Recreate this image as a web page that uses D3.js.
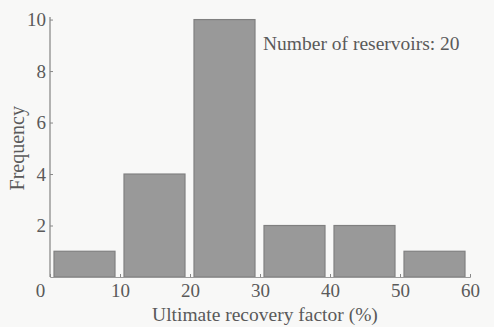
<!DOCTYPE html>
<html>
<head>
<meta charset="utf-8">
<script src="https://cdn.jsdelivr.net/npm/d3@7"></script>
<style>
  html, body { margin: 0; padding: 0; background: #f8f8f7; }
  svg { display: block; }
  text { font-family: "Liberation Serif", "DejaVu Serif", serif; fill: #5a5a5a; }
</style>
</head>
<body>
<svg id="chart" width="494" height="327"></svg>
<script>
// Histogram of ultimate recovery factor, 10% bins
const binStarts = [0, 10, 20, 30, 40, 50];
const binWidth = 10;
const frequencies = [1, 4, 10, 2, 2, 1];
const xTicks = [0, 10, 20, 30, 40, 50, 60];
const yTicks = [2, 4, 6, 8, 10];
const annotation = "Number of reservoirs: 20";

const svg = d3.select("#chart");
const margin = { left: 50, right: 24, top: 17, bottom: 50 };
const W = 494, H = 327;

const x = d3.scaleLinear().domain([0, 60]).range([margin.left, W - margin.right]);
const y = d3.scaleLinear().domain([0, 10.1]).range([H - margin.bottom, margin.top]);

// bars
svg.append("g").selectAll("rect")
  .data(binStarts.map((s, i) => ({ s, f: frequencies[i] })))
  .join("rect")
  .attr("x", d => x(d.s) + 4)
  .attr("width", d => x(d.s + binWidth) - x(d.s) - 9)
  .attr("y", d => y(d.f))
  .attr("height", d => y(0) - y(d.f))
  .attr("fill", "#999999")
  .attr("stroke", "#808080")
  .attr("stroke-width", 1.2);

// y axis
const yAxis = svg.append("g")
  .attr("transform", `translate(${margin.left},0)`)
  .call(d3.axisLeft(y).tickValues(yTicks).tickSize(-3).tickPadding(4).tickFormat(d3.format("d")));
yAxis.select(".domain").attr("d", `M0,${y(0)}V${y(10.1)}`).attr("stroke", "#8c8c8c").attr("stroke-width", 1.3);
yAxis.selectAll(".tick line").attr("stroke", "#888");
yAxis.selectAll(".tick text").attr("font-size", 19).attr("fill", "#5a5a5a")
  .attr("font-family", "Liberation Serif, serif");

// x axis
const xAxis = svg.append("g")
  .attr("transform", `translate(0,${y(0)})`)
  .call(d3.axisBottom(x).tickValues(xTicks).tickSize(-3).tickPadding(7).tickFormat(d3.format("d")));
xAxis.select(".domain").attr("stroke", "#9a9a9a").attr("stroke-width", 1);
xAxis.selectAll(".tick line").attr("stroke", "#888");
xAxis.selectAll(".tick text").attr("font-size", 19).attr("fill", "#5a5a5a")
  .attr("font-family", "Liberation Serif, serif")
  .attr("dx", d => d === 0 ? -10 : 0);

// axis titles
svg.append("text")
  .attr("x", 265)
  .attr("y", 321)
  .attr("text-anchor", "middle")
  .attr("font-size", 19.5)
  .text("Ultimate recovery factor (%)");

svg.append("text")
  .attr("transform", `translate(24,${(y(0) + y(10)) / 2}) rotate(-90)`)
  .attr("text-anchor", "middle")
  .attr("font-size", 20)
  .text("Frequency");

// annotation
svg.append("text")
  .attr("x", 263)
  .attr("y", 50)
  .attr("font-size", 19.5)
  .text(annotation);
</script>
</body>
</html>
